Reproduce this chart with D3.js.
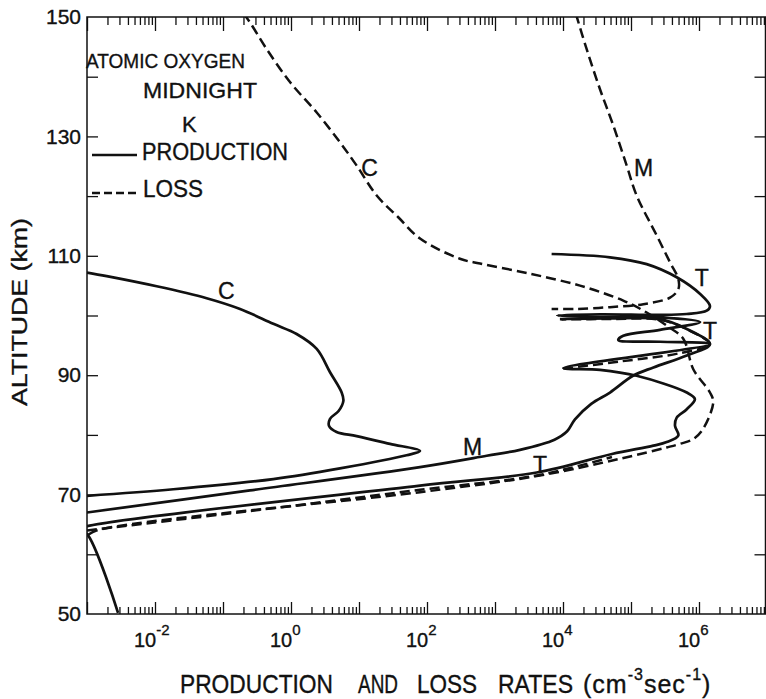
<!DOCTYPE html>
<html>
<head>
<meta charset="utf-8">
<script src="https://cdn.jsdelivr.net/npm/d3@7"></script>
<style>
  html, body { margin: 0; padding: 0; background: #fff; }
  svg { display: block; }
  text { font-family: "Liberation Sans", Arial, sans-serif; fill: #111; stroke: #111; stroke-width: 0.35px; }
</style>
</head>
<body>
<svg id="chart" width="766" height="699"></svg>
<script>
// Atomic oxygen production and loss profiles, midnight, K.
// Each point is [rate (cm^-3 s^-1), altitude (km)].
const productionC = [
  [1.0e-3,107.2],[1.95e-3,106.6],[1.06e-2,104.9],[5.75e-2,102.9],[0.178,101.1],
  [0.55,98.6],[1.21,96.9],[2.39,94.4],[3.75,90.5],[5.56,87.1],[5.89,85.7],
  [5.01,84.0],[3.75,82.7],[3.63,81.5],[4.68,80.5],[9.25,79.8],[28.6,78.5],
  [78.9,77.3],[50.1,76.6],[5.25,74.4],[0.55,72.6],[1.86e-2,70.9],[1.0e-3,69.8]
];
const productionM = [
  [1.0e-3,67.0],[0.249,70.7],[78.9,74.6],[755,76.5],[2.33e3,77.5],[7.5e3,79.2],
  [1.15e4,80.6],[1.5e4,82.6],[2.6e4,85.2],[4.91e4,87.1],[1.07e5,89.9],
  [2.14e5,91.3],[6.61e5,93.3],[1.45e6,95.2],[6.61e5,97.75],[2.67e5,99.4],
  [4.9e4,99.5],[9.0e3,99.4]
];
const productionT = [
  [2.86e-3,50.2],[1.0e-3,63.4],[7.4e-4,64.1],[1.0e-3,64.7],[78.9,71.5],
  [4.1e3,73.7],[5.25e4,76.8],[2.13e5,78.2],[3.35e5,78.8],[4.97e5,79.9],
  [4.44e5,81.5],[4.7e5,82.9],[6.61e5,84.3],[8.7e5,86.0],[6.61e5,87.1],
  [1.21e5,89.9],[3.5e4,90.9],[1.01e4,91.2],[1.45e6,95.2],[2.67e5,95.6],
  [6.5e4,95.9],[7.7e4,96.6],[2.67e5,97.6],[1.04e6,98.9],[2.67e5,99.7],
  [3.5e4,99.7],[8.2e3,100.0],[3.5e4,100.2],[2.67e5,100.1],[6.6e5,100.25],
  [1.3e6,100.8],[1.45e6,101.6],[1.04e6,103.6],[4.7e5,106.4],[1.7e5,108.6],
  [4.9e4,109.75],[6.8e3,110.3]
];
const lossC = [
  [0.2,150.6],[0.249,149.1],[0.44,144.6],[0.966,139.1],[2.39,134.0],[5.26,129.0],
  [9.25,125.1],[18.2,120.1],[37.5,116.5],[78.9,112.9],[305,109.5],[603,108.7],
  [3.27e3,107.0],[1.78e4,105.0],[7.7e4,102.5],[1.7e5,100.5],[3.35e5,98.3],
  [5.87e5,96.1],[8.24e5,91.0],[1.45e6,87.1],[1.62e6,85.5],[1.15e6,81.0],
  [8.24e5,79.3],[5.25e5,78.5],[3.35e5,77.9],[6.9e4,76.0],[4.1e3,73.1],
  [78.9,70.4],[1.4e-3,64.0],[1.0e-3,63.1]
];
const lossM = [
  [1.55e4,150.5],[2.23e4,144.6],[3.5e4,137.9],[5.5e4,131.8],[8.65e4,125.1],
  [1.21e5,120.1],[2.39e5,113.4],[3.75e5,108.9],[4.97e5,106.1],[4.97e5,104.4],
  [3.75e5,103.0],[1.52e5,101.9],[4.9e4,101.4],[1.58e4,101.1],[6.8e3,101.1]
];
const lossT = [
  [1.01e4,91.1],[6.9e4,92.3],[5.25e5,93.7],[1.45e6,95.2],[6.61e5,97.7],
  [2.67e5,99.3],[4.9e4,99.4],[9.5e3,99.35]
];
const lossTLow = [
  [1.0e-3,64.0],[0.249,67.25],[78.9,70.8],[4.1e3,73.2],[5.25e4,76.3]
];

const seriesList = [
  { name: "C", kind: "production", values: productionC },
  { name: "M", kind: "production", values: productionM },
  { name: "T", kind: "production", values: productionT },
  { name: "C", kind: "loss", values: lossC },
  { name: "M", kind: "loss", values: lossM },
  { name: "T", kind: "loss", values: lossT },
  { name: "T", kind: "loss", values: lossTLow }
];

// Curve labels: [text, rate, altitude]
const curveLabels = [
  ["C", 14.3, 123.4], ["C", 0.112, 102.8],
  ["M", 1.53e5, 123.4], ["M", 467, 76.6],
  ["T", 4.6e3, 73.6], ["T", 1.1e6, 104.9], ["T", 1.45e6, 96.1]
];

const yTickLabels = [50, 70, 90, 110, 130, 150];
const yTicksMinor = [60, 70, 80, 90, 100, 110, 120, 130, 140];
const xLabelExponents = [-2, 0, 2, 4, 6];
const decades = d3.range(-3, 7);            // 10^-3 ... 10^6
const minorMultipliers = [2, 3, 4, 5, 6, 7, 8, 9];

const legendLines = ["ATOMIC OXYGEN", "MIDNIGHT", "K"];
const legendEntries = ["PRODUCTION", "LOSS"];

const svg = d3.select("#chart");
const plotLeft = 87, plotRight = 767, frameRight = 765.5, plotTop = 17, plotBottom = 614;

const x = d3.scaleLog().domain([1e-3, 1e7]).range([plotLeft, plotRight]);
const y = d3.scaleLinear().domain([50, 150]).range([plotBottom, plotTop]);

const majorTicks = decades.concat([7]).map(e => Math.pow(10, e));
const minorTicks = [];
decades.forEach(e => minorMultipliers.forEach(m => minorTicks.push(m * Math.pow(10, e))));

const ink = "#111";

// clip region for the curves
svg.append("defs").append("clipPath").attr("id", "plot")
  .append("rect").attr("x", plotLeft).attr("y", plotTop)
  .attr("width", frameRight - plotLeft).attr("height", plotBottom - plotTop);

function fitText(g, str, x0, yb, size, len) {
  return g.append("text").attr("x", x0).attr("y", yb).attr("font-size", size)
    .attr("textLength", len).attr("lengthAdjust", "spacingAndGlyphs").text(str);
}

// ---- axes ----
function styleAxis(g) {
  g.select(".domain").remove();
  g.selectAll(".tick line").attr("stroke", ink).attr("stroke-width", 1.3);
}
// bottom (ticks pointing up)
svg.append("g").attr("transform", `translate(0,${plotBottom})`)
  .call(d3.axisBottom(x).tickValues(minorTicks).tickSize(-7).tickFormat(""))
  .call(styleAxis);
svg.append("g").attr("transform", `translate(0,${plotBottom})`)
  .call(d3.axisBottom(x).tickValues(majorTicks).tickSize(-12).tickFormat(""))
  .call(styleAxis);
// top (ticks pointing down)
svg.append("g").attr("transform", `translate(0,${plotTop})`)
  .call(d3.axisTop(x).tickValues(minorTicks).tickSize(-8).tickFormat(""))
  .call(styleAxis);
svg.append("g").attr("transform", `translate(0,${plotTop})`)
  .call(d3.axisTop(x).tickValues(majorTicks).tickSize(-14).tickFormat(""))
  .call(styleAxis);
// left ticks pointing in
svg.append("g").attr("transform", `translate(${plotLeft},0)`)
  .call(d3.axisLeft(y).tickValues(yTicksMinor).tickSize(-11).tickFormat(""))
  .call(styleAxis);
// right ticks pointing in
svg.append("g").attr("transform", `translate(${frameRight},0)`)
  .call(d3.axisRight(y).tickValues(yTicksMinor).tickSize(-11).tickFormat(""))
  .call(styleAxis);
// left tick labels
svg.append("g").attr("transform", `translate(${plotLeft},0)`)
  .call(d3.axisLeft(y).tickValues(yTickLabels).tickSize(0).tickPadding(6).tickFormat(d3.format("d")))
  .call(g => g.select(".domain").remove())
  .call(g => g.selectAll("text").attr("font-size", 21)
    .attr("font-family", '"Liberation Sans", Arial, sans-serif').attr("fill", ink));

// frame
svg.append("rect").attr("x", plotLeft).attr("y", plotTop)
  .attr("width", frameRight - plotLeft).attr("height", plotBottom - plotTop)
  .attr("fill", "none").attr("stroke", ink).attr("stroke-width", 1.5);

// bottom tick labels: "10" ending at the tick, exponent raised after it
const xl = svg.append("g");
xLabelExponents.forEach(e => {
  const t = xl.append("text").attr("x", x(Math.pow(10, e)) - 21).attr("y", 647)
    .attr("font-size", 20);
  t.append("tspan").text("10");
  t.append("tspan").attr("dy", -12).attr("font-size", 15).text(String(e));
});

// ---- curves ----
const line = d3.line()
  .x(d => x(d[0])).y(d => y(d[1]))
  .curve(d3.curveCatmullRom.alpha(0.5));

svg.append("g").attr("clip-path", "url(#plot)")
  .selectAll("path").data(seriesList).join("path")
  .attr("d", d => line(d.values))
  .attr("fill", "none")
  .attr("stroke", ink)
  .attr("stroke-width", d => d.kind === "production" ? 2.7 : 2.5)
  .attr("stroke-dasharray", d => d.kind === "loss" ? "10,5" : null)
  .attr("stroke-linejoin", "round");

// curve labels
svg.append("g").selectAll("text").data(curveLabels).join("text")
  .attr("x", d => x(d[1])).attr("y", d => y(d[2]))
  .attr("text-anchor", "middle").attr("font-size", 23)
  .text(d => d[0]);

// ---- legend ----
const lg = svg.append("g");
fitText(lg, legendLines[0], 86, 68, 21, 159);
fitText(lg, legendLines[1], 143, 98, 22, 114);
lg.append("text").attr("x", 182).attr("y", 132).attr("font-size", 22).text(legendLines[2]);
lg.append("line").attr("x1", 92).attr("x2", 137).attr("y1", 155).attr("y2", 155)
  .attr("stroke", ink).attr("stroke-width", 2.6);
fitText(lg, legendEntries[0], 142, 160, 23, 146);
lg.append("line").attr("x1", 92).attr("x2", 140).attr("y1", 193).attr("y2", 193)
  .attr("stroke", ink).attr("stroke-width", 2.4).attr("stroke-dasharray", "8,4");
fitText(lg, legendEntries[1], 143, 197, 23, 60);

// ---- axis titles ----
svg.append("text")
  .attr("transform", "translate(27,312) rotate(-90)")
  .attr("text-anchor", "middle").attr("font-size", 22)
  .attr("textLength", 188).attr("lengthAdjust", "spacingAndGlyphs")
  .text("ALTITUDE (km)");

const xTitleWords = [["PRODUCTION", 180, 153], ["AND", 358, 40], ["LOSS", 417, 60], ["RATES", 498, 75]];
const xt = svg.append("g");
xTitleWords.forEach(w => fitText(xt, w[0], w[1], 693, 25, w[2]));
const unit = xt.append("text").attr("x", 583).attr("y", 693).attr("font-size", 25).attr("letter-spacing", 1);
unit.append("tspan").text("(cm");
unit.append("tspan").attr("dy", -13).attr("font-size", 16).text("-3");
unit.append("tspan").attr("dy", 13).text("sec");
unit.append("tspan").attr("dy", -13).attr("font-size", 16).text("-1");
unit.append("tspan").attr("dy", 13).text(")");
</script>
</body>
</html>
